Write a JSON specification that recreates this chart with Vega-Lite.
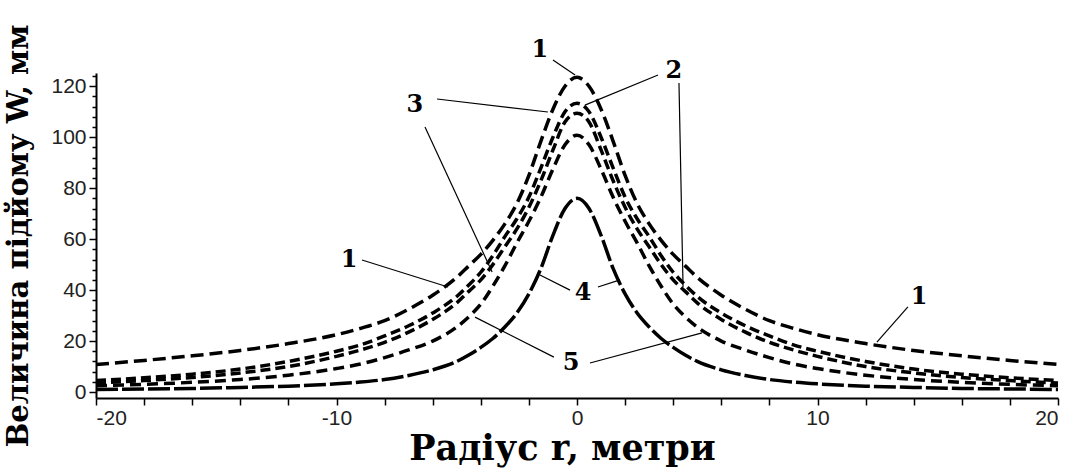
{
  "$schema": "https://vega.github.io/schema/vega-lite/v6.json",
  "width": 962,
  "height": 325,
  "autosize": "none",
  "padding": {"left": 96, "top": 73, "right": 8, "bottom": 72},
  "background": "white",
  "config": {
    "view": {"stroke": null},
    "axis": {
      "grid": false,
      "domainColor": "#000",
      "domainWidth": 2,
      "tickColor": "#000",
      "tickWidth": 1.5,
      "tickSize": 7,
      "labelFont": "Liberation Sans Narrow, Liberation Sans",
      "labelFontSize": 21,
      "labelColor": "#222",
      "titleFont": "DejaVu Serif",
      "titleFontWeight": "bold",
      "titleColor": "#000"
    }
  },
  "resolve": {"scale": {"y": "independent"}},
  "layer": [
    {
      "data": {
        "values": [
          {"c":"1","r":-20,"w":10.8},{"c":"1","r":-18,"w":12.4},{"c":"1","r":-16,"w":14.2},{"c":"1","r":-14,"w":16.3},{"c":"1","r":-12,"w":19},{"c":"1","r":-10,"w":22.5},{"c":"1","r":-9,"w":25},{"c":"1","r":-8,"w":28},{"c":"1","r":-7,"w":32.5},{"c":"1","r":-6,"w":38},{"c":"1","r":-5,"w":45},{"c":"1","r":-4.5,"w":49.5},{"c":"1","r":-4,"w":54},{"c":"1","r":-3.5,"w":59.5},{"c":"1","r":-3,"w":66},{"c":"1","r":-2.5,"w":74},{"c":"1","r":-2,"w":85},{"c":"1","r":-1.5,"w":98.5},{"c":"1","r":-1,"w":111},{"c":"1","r":-0.5,"w":120},{"c":"1","r":0,"w":123.5},{"c":"1","r":0.5,"w":120},{"c":"1","r":1,"w":111},{"c":"1","r":1.5,"w":98.5},{"c":"1","r":2,"w":85},{"c":"1","r":2.5,"w":74},{"c":"1","r":3,"w":66},{"c":"1","r":3.5,"w":59.5},{"c":"1","r":4,"w":54},{"c":"1","r":4.5,"w":49.5},{"c":"1","r":5,"w":45},{"c":"1","r":6,"w":38},{"c":"1","r":7,"w":32.5},{"c":"1","r":8,"w":28},{"c":"1","r":9,"w":25},{"c":"1","r":10,"w":22.5},{"c":"1","r":12,"w":19},{"c":"1","r":14,"w":16.3},{"c":"1","r":16,"w":14.2},{"c":"1","r":18,"w":12.4},{"c":"1","r":20,"w":10.8},

          {"c":"2","r":-20,"w":4.5},{"c":"2","r":-18,"w":5.6},{"c":"2","r":-16,"w":7},{"c":"2","r":-14,"w":9},{"c":"2","r":-12,"w":12},{"c":"2","r":-10,"w":16},{"c":"2","r":-9,"w":18.5},{"c":"2","r":-8,"w":22},{"c":"2","r":-7,"w":26},{"c":"2","r":-6,"w":31},{"c":"2","r":-5,"w":37.5},{"c":"2","r":-4.5,"w":42},{"c":"2","r":-4,"w":47},{"c":"2","r":-3.5,"w":53.5},{"c":"2","r":-3,"w":61},{"c":"2","r":-2.5,"w":68},{"c":"2","r":-2,"w":76.5},{"c":"2","r":-1.5,"w":88},{"c":"2","r":-1,"w":100},{"c":"2","r":-0.5,"w":110},{"c":"2","r":0,"w":113.3},{"c":"2","r":0.5,"w":110},{"c":"2","r":1,"w":100},{"c":"2","r":1.5,"w":88},{"c":"2","r":2,"w":76.5},{"c":"2","r":2.5,"w":68},{"c":"2","r":3,"w":61},{"c":"2","r":3.5,"w":53.5},{"c":"2","r":4,"w":47},{"c":"2","r":4.5,"w":42},{"c":"2","r":5,"w":37.5},{"c":"2","r":6,"w":31},{"c":"2","r":7,"w":26},{"c":"2","r":8,"w":22},{"c":"2","r":9,"w":18.5},{"c":"2","r":10,"w":16},{"c":"2","r":12,"w":12},{"c":"2","r":14,"w":9},{"c":"2","r":16,"w":7},{"c":"2","r":18,"w":5.6},{"c":"2","r":20,"w":4.5},

          {"c":"3","r":-20,"w":3.5},{"c":"3","r":-18,"w":4.5},{"c":"3","r":-16,"w":5.7},{"c":"3","r":-14,"w":7.5},{"c":"3","r":-12,"w":10},{"c":"3","r":-10,"w":14},{"c":"3","r":-9,"w":16.5},{"c":"3","r":-8,"w":19.5},{"c":"3","r":-7,"w":23.5},{"c":"3","r":-6,"w":28.5},{"c":"3","r":-5,"w":35},{"c":"3","r":-4.5,"w":39.5},{"c":"3","r":-4,"w":44},{"c":"3","r":-3.5,"w":50},{"c":"3","r":-3,"w":57},{"c":"3","r":-2.5,"w":64},{"c":"3","r":-2,"w":72.5},{"c":"3","r":-1.5,"w":83},{"c":"3","r":-1,"w":95},{"c":"3","r":-0.5,"w":106},{"c":"3","r":0,"w":109.4},{"c":"3","r":0.5,"w":106},{"c":"3","r":1,"w":95},{"c":"3","r":1.5,"w":83},{"c":"3","r":2,"w":72.5},{"c":"3","r":2.5,"w":64},{"c":"3","r":3,"w":57},{"c":"3","r":3.5,"w":50},{"c":"3","r":4,"w":44},{"c":"3","r":4.5,"w":39.5},{"c":"3","r":5,"w":35},{"c":"3","r":6,"w":28.5},{"c":"3","r":7,"w":23.5},{"c":"3","r":8,"w":19.5},{"c":"3","r":9,"w":16.5},{"c":"3","r":10,"w":14},{"c":"3","r":12,"w":10},{"c":"3","r":14,"w":7.5},{"c":"3","r":16,"w":5.7},{"c":"3","r":18,"w":4.5},{"c":"3","r":20,"w":3.5},

          {"c":"5","r":-20,"w":2.5},{"c":"5","r":-18,"w":3},{"c":"5","r":-16,"w":3.8},{"c":"5","r":-14,"w":4.9},{"c":"5","r":-12,"w":6.6},{"c":"5","r":-10,"w":9.2},{"c":"5","r":-9,"w":11},{"c":"5","r":-8,"w":13.5},{"c":"5","r":-7,"w":16.5},{"c":"5","r":-6,"w":20},{"c":"5","r":-5,"w":25.5},{"c":"5","r":-4.5,"w":29.5},{"c":"5","r":-4,"w":34.5},{"c":"5","r":-3.5,"w":41.5},{"c":"5","r":-3,"w":49.5},{"c":"5","r":-2.5,"w":58.5},{"c":"5","r":-2,"w":67},{"c":"5","r":-1.5,"w":76.5},{"c":"5","r":-1,"w":87.5},{"c":"5","r":-0.5,"w":97},{"c":"5","r":0,"w":100.8},{"c":"5","r":0.5,"w":97},{"c":"5","r":1,"w":87.5},{"c":"5","r":1.5,"w":76.5},{"c":"5","r":2,"w":67},{"c":"5","r":2.5,"w":58.5},{"c":"5","r":3,"w":49.5},{"c":"5","r":3.5,"w":41.5},{"c":"5","r":4,"w":34.5},{"c":"5","r":4.5,"w":29.5},{"c":"5","r":5,"w":25.5},{"c":"5","r":6,"w":20},{"c":"5","r":7,"w":16.5},{"c":"5","r":8,"w":13.5},{"c":"5","r":9,"w":11},{"c":"5","r":10,"w":9.2},{"c":"5","r":12,"w":6.6},{"c":"5","r":14,"w":4.9},{"c":"5","r":16,"w":3.8},{"c":"5","r":18,"w":3},{"c":"5","r":20,"w":2.5},

          {"c":"4","r":-20,"w":1},{"c":"4","r":-18,"w":1.2},{"c":"4","r":-16,"w":1.4},{"c":"4","r":-14,"w":1.8},{"c":"4","r":-12,"w":2.3},{"c":"4","r":-10,"w":3.2},{"c":"4","r":-9,"w":3.9},{"c":"4","r":-8,"w":4.9},{"c":"4","r":-7,"w":6.5},{"c":"4","r":-6,"w":8.7},{"c":"4","r":-5,"w":12},{"c":"4","r":-4.5,"w":14.5},{"c":"4","r":-4,"w":17.5},{"c":"4","r":-3.5,"w":21},{"c":"4","r":-3,"w":25.5},{"c":"4","r":-2.5,"w":31},{"c":"4","r":-2,"w":38.5},{"c":"4","r":-1.5,"w":48.5},{"c":"4","r":-1,"w":61.5},{"c":"4","r":-0.5,"w":72},{"c":"4","r":0,"w":76},{"c":"4","r":0.5,"w":72},{"c":"4","r":1,"w":61.5},{"c":"4","r":1.5,"w":48.5},{"c":"4","r":2,"w":38.5},{"c":"4","r":2.5,"w":31},{"c":"4","r":3,"w":25.5},{"c":"4","r":3.5,"w":21},{"c":"4","r":4,"w":17.5},{"c":"4","r":4.5,"w":14.5},{"c":"4","r":5,"w":12},{"c":"4","r":6,"w":8.7},{"c":"4","r":7,"w":6.5},{"c":"4","r":8,"w":4.9},{"c":"4","r":9,"w":3.9},{"c":"4","r":10,"w":3.2},{"c":"4","r":12,"w":2.3},{"c":"4","r":14,"w":1.8},{"c":"4","r":16,"w":1.4},{"c":"4","r":18,"w":1.2},{"c":"4","r":20,"w":1}
        ]
      },
      "mark": {"type": "line", "interpolate": "monotone", "strokeWidth": 3.5, "color": "#000", "strokeCap": "butt"},
      "encoding": {
        "x": {
          "field": "r",
          "type": "quantitative",
          "scale": {"domain": [-20, 20], "nice": false, "zero": false},
          "axis": {
            "title": "Радіус r, метри",
            "titleFontSize": 35,
            "values": [-20,-18,-16,-14,-12,-10,-8,-6,-4,-2,0,2,4,6,8,10,12,14,16,18,20],
            "labelExpr": "datum.value % 10 === 0 ? '' + datum.value : ''",
            "labelOverlap": false,
            "labelFlush": true,
            "labelPadding": 2,
            "titlePadding": 3,
            "titleX": 466,
            "encode": {
              "ticks": {"update": {"y2": {"signal": "datum.value % 10 === 0 ? 7 : 4"}}}
            }
          }
        },
        "y": {
          "field": "w",
          "type": "quantitative",
          "scale": {"domain": [-2.35, 125.2], "nice": false, "zero": false},
          "axis": {
            "orient": "left",
            "title": "Величина підйому W, мм",
            "titleFontSize": 29,
            "values": [0, 20, 40, 60, 80, 100, 120],
            "labelExpr": "'' + datum.value",
            "labelOverlap": false,
            "labelPadding": 3,
            "titlePadding": 17
          }
        },
        "detail": {"field": "c", "type": "nominal"},
        "strokeDash": {
          "field": "c",
          "type": "nominal",
          "scale": {"domain": ["1","2","3","4","5"], "range": [[13,6],[10,5],[10,5],[22,4],[11,6]]},
          "legend": null
        }
      }
    },
    {
      "data": {
        "values": [
          {"r":-1.0,"w":130.3,"r2":-0.08,"w2":124.4},
          {"r":3.37,"w":124.4,"r2":0.33,"w2":112.6},
          {"r":4.24,"w":121.3,"r2":4.41,"w2":41.2},
          {"r":-5.82,"w":115.0,"r2":-1.21,"w2":109.9},
          {"r":-6.32,"w":104.0,"r2":-3.53,"w2":47.1},
          {"r":-8.94,"w":51.8,"r2":-5.36,"w2":41.2},
          {"r":-0.29,"w":40.0,"r2":-1.54,"w2":45.9},
          {"r":0.87,"w":41.2,"r2":1.79,"w2":44.0},
          {"r":-0.96,"w":13.7,"r2":-4.24,"w2":29.4},
          {"r":0.54,"w":11.4,"r2":5.2,"w2":23.2},
          {"r":13.76,"w":33.4,"r2":12.47,"w2":19.6}
        ]
      },
      "mark": {"type": "rule", "strokeWidth": 1.2, "color": "#000"},
      "encoding": {
        "x": {"field": "r", "type": "quantitative"},
        "y": {
          "field": "w",
          "type": "quantitative",
          "scale": {"domain": [-2.35, 125.2], "nice": false, "zero": false},
          "axis": {
            "orient": "left",
            "values": [4,8,12,16,24,28,32,36,44,48,52,56,64,68,72,76,84,88,92,96,104,108,112,116,124],
            "labels": false,
            "domain": false,
            "title": null,
            "tickSize": 4
          }
        },
        "x2": {"field": "r2"},
        "y2": {"field": "w2"}
      }
    },
    {
      "data": {
        "values": [
          {"r":-1.54,"w":134.2,"t":"1"},
          {"r":4.03,"w":126.0,"t":"2"},
          {"r":-6.74,"w":112.6,"t":"3"},
          {"r":-9.48,"w":51.8,"t":"1"},
          {"r":0.25,"w":38.9,"t":"4"},
          {"r":-0.25,"w":11.4,"t":"5"},
          {"r":14.22,"w":37.3,"t":"1"}
        ]
      },
      "mark": {"type": "text", "font": "DejaVu Serif", "fontWeight": "bold", "fontSize": 24, "align": "center", "baseline": "middle", "color": "#000"},
      "encoding": {
        "x": {"field": "r", "type": "quantitative"},
        "y": {
          "field": "w",
          "type": "quantitative",
          "scale": {"domain": [-2.35, 125.2], "nice": false, "zero": false},
          "axis": null
        },
        "text": {"field": "t"}
      }
    }
  ]
}
